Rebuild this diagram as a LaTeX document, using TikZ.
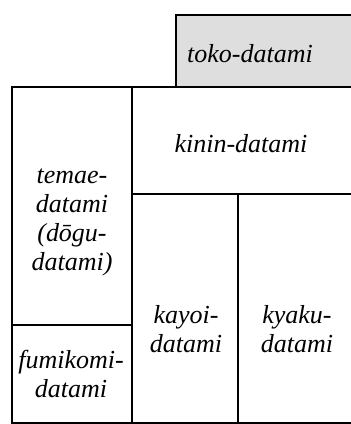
\documentclass[tikz,border=0pt]{standalone}
\usepackage{fontspec}
\setmainfont{Liberation Serif}
\usepackage{tikz}

\tikzset{
  mat/.style={draw=black, line width=2pt},
  label/.style={font=\fontsize{26}{29}\selectfont\itshape, align=center, inner sep=0pt}
}

\begin{document}
\begin{tikzpicture}[x=1pt, y=-1pt]

\useasboundingbox (0,0) rectangle (351,424);
\clip (0,0) rectangle (351,424);

% Toko
\draw[mat, fill=black!13] (176,15) rectangle (370,87);
\node[label, anchor=base] (toko) at (250,62) {toko-datami};

% Tatami
\draw[mat] (12,87) rectangle (132,325);
\draw[mat] (12,325) rectangle (132,423);
\draw[mat] (132,87) rectangle (370,194);
\draw[mat] (132,194) rectangle (238,423);
\draw[mat] (238,194) rectangle (370,423);

\node[label] (temae) at (72,222) {temae-\\datami\\(dōgu-\\datami)};
\node[label] (fumikomi) at (71,374) {fumikomi-\\datami};
\node[label, anchor=base] (kinin) at (241,152) {kinin-datami};
\node[label] (kayoi) at (186,329) {kayoi-\\datami};
\node[label] (kyaku) at (297,329) {kyaku-\\datami};

\end{tikzpicture}
\end{document}
